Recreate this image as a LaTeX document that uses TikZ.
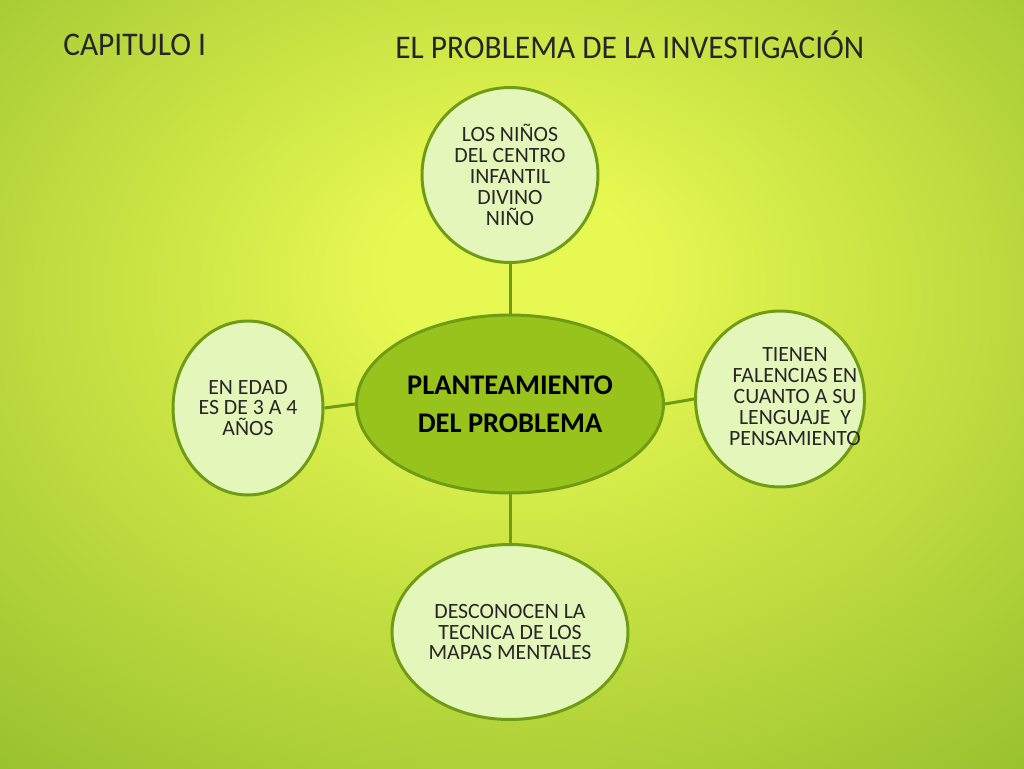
\documentclass[tikz,border=0pt]{standalone}
\usepackage{fontspec}
\setmainfont{Carlito}
\newfontfamily\titlefont[FakeStretch=0.95]{Carlito}
\usetikzlibrary{shapes.geometric}
\definecolor{bgin}{HTML}{E8F852}
\definecolor{bgout}{HTML}{7DAE22}
\definecolor{pale}{HTML}{E4F6B9}
\definecolor{midgreen}{HTML}{97C31C}
\definecolor{edgegreen}{HTML}{6E9C14}
\pgfdeclareradialshading{bgshade}{\pgfpoint{0bp}{8bp}}{color(0bp)=(bgin); color(6bp)=(bgin); color(50bp)=(bgout); color(75bp)=(bgout)}
\tikzset{
  leaf/.style={ellipse, draw=edgegreen, line width=1.7pt, fill=pale, inner sep=-12pt, align=center, font=\fontsize{12.4}{11.9}\selectfont, text=black!85},
  hub/.style={ellipse, draw=edgegreen, line width=1.7pt, fill=midgreen, inner sep=-12pt, align=center, font=\fontsize{16.2}{21.5}\selectfont\bfseries},
  link/.style={draw=edgegreen, line width=1.7pt},
  title/.style={anchor=west, inner sep=0pt, font=\titlefont\fontsize{18.8}{20}\selectfont, text=black!85}
}
\begin{document}
\begin{tikzpicture}[x=0.02cm,y=-0.02cm]
\shade[shading=bgshade] (0,0) rectangle (1024,768);
\useasboundingbox (0,0) rectangle (1024,768);
\node[title] (t1) at (63,45) {CAPITULO I};
\node[title] (t2) at (395,45) {EL PROBLEMA DE LA INVESTIGACIÓN};
\node[hub, minimum width=6.14cm, minimum height=3.56cm] (c) at (510,404) {PLANTEAMIENTO\\DEL PROBLEMA};
\node[leaf, minimum width=3.52cm, minimum height=3.5cm] (top) at (510,175) {LOS NIÑOS\\DEL CENTRO\\INFANTIL\\DIVINO\\NIÑO};
\node[leaf, minimum width=3.0cm, minimum height=3.48cm] (left) at (248,408) {EN EDAD\\ES DE 3 A 4\\AÑOS};
\node[leaf, minimum width=3.34cm, minimum height=3.52cm] (right) at (780,399) {\hspace*{0.6cm}\begin{tabular}{@{}c@{}}TIENEN\\FALENCIAS EN\\CUANTO A SU\\LENGUAJE~~Y\\PENSAMIENTO\end{tabular}};
\node[leaf, minimum width=4.72cm, minimum height=3.5cm] (bottom) at (510,632) {DESCONOCEN LA\\TECNICA DE LOS\\MAPAS MENTALES};
\draw[link] (top.south) -- (c.north);
\draw[link] (c.south) -- (bottom.north);
\draw[link] (left.east) -- (c.west);
\draw[link] (c.east) -- (right.west);
\end{tikzpicture}
\end{document}
